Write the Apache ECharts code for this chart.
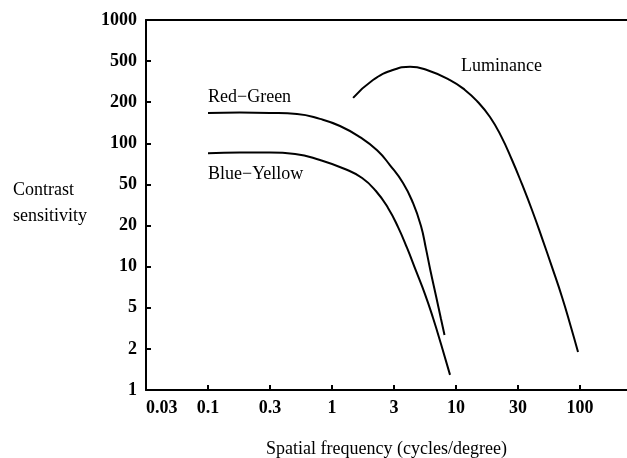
<!DOCTYPE html>
<html>
<head>
<meta charset="utf-8">
<script src="https://cdn.jsdelivr.net/npm/echarts@6/dist/echarts.min.js"></script>
<style>
  html, body { margin: 0; padding: 0; background: #fff; }
  #chart { width: 627px; height: 458px; }
</style>
</head>
<body>
<div id="chart"></div>
<script>
// tick labels (both axes are equally spaced between ticks)
const xTickLabels = ['0.03', '0.1', '0.3', '1', '3', '10', '30', '100']
const yTickLabels = ['1', '2', '5', '10', '20', '50', '100', '200', '500', '1000']
const yTickValues = [1, 2, 5, 10, 20, 50, 100, 200, 500, 1000]

// spatial frequency (cycles/degree) and contrast sensitivity
const redGreenFreq = [0.1, 0.181, 0.316, 0.522, 0.80, 1.16, 1.68, 2.31, 2.94, 3.74, 4.50, 5.22, 5.73, 6.23, 6.90, 7.57, 8.08]
const redGreenSens = [167, 168, 167, 164, 151, 134, 111, 89, 69, 51.2, 33.1, 19.85, 13.5, 9.30, 6.10, 3.89, 2.73]

const blueYellowFreq = [0.1, 0.181, 0.316, 0.504, 0.80, 1.27, 1.75, 2.26, 2.83, 3.41, 4.03, 4.76, 5.62, 6.53, 7.57, 8.95]
const blueYellowSens = [84.6, 85.7, 85.7, 83.6, 75.5, 64.9, 55.7, 43.2, 29.6, 19.5, 13.7, 9.30, 6.30, 3.98, 2.23, 1.29]

const luminanceFreq = [1.48, 2.14, 3.10, 4.26, 5.83, 8.95, 11.8, 15.0, 18.8, 23.1, 28.3, 34.0, 41.0, 49.4, 59.4, 71.6, 84.5, 96.4]
const luminanceSens = [220, 328, 410, 441, 410, 328, 263, 201, 156, 113, 75.5, 50.4, 28.3, 16.2, 9.96, 6.0, 3.26, 1.90]

// x: half-decade steps (0.1 -> 1, 1 -> 3, ...)
function xPos (f) {
  return 2 * Math.log10(f) + 3
}
// y: one step per tick, log inside each step
function yPos (v) {
  for (let i = 0; i < yTickValues.length - 1; i++) {
    const a = yTickValues[i]
    const b = yTickValues[i + 1]
    if (v <= b || i === yTickValues.length - 2) {
      return i + Math.log(v / a) / Math.log(b / a)
    }
  }
}
function toPoints (freq, sens) {
  return freq.map((f, i) => [xPos(f), yPos(sens[i])])
}

const serif = '"Liberation Serif", "DejaVu Serif", serif'
const xMax = (627 - 146) / 62

function curve (name, freq, sens) {
  return {
    name: name,
    type: 'line',
    smooth: 0.5,
    showSymbol: false,
    lineStyle: { color: '#000', width: 2 },
    data: toPoints(freq, sens)
  }
}

const chart = echarts.init(document.getElementById('chart'))
chart.setOption({
  animation: false,
  backgroundColor: '#fff',
  grid: { left: 146, top: 20, right: 0, height: 370, outerBoundsMode: 'none', containLabel: false },
  xAxis: [{
    type: 'value',
    min: 0,
    max: xMax,
    interval: 1,
    splitLine: { show: false },
    axisLine: { lineStyle: { color: '#000', width: 2 } },
    axisTick: {
      inside: true,
      length: 5,
      lineStyle: { color: '#000', width: 2 },
      customValues: [1, 2, 3, 4, 5, 6, 7]
    },
    axisLabel: {
      customValues: [0, 1, 2, 3, 4, 5, 6, 7],
      alignMinLabel: 'left',
      margin: 9,
      color: '#000',
      fontFamily: serif,
      fontWeight: 'bold',
      fontSize: 18,
      formatter: v => xTickLabels[Math.round(v)]
    },
    name: 'Spatial frequency (cycles/degree)',
    nameLocation: 'middle',
    nameGap: 50,
    nameTextStyle: { color: '#000', fontFamily: serif, fontSize: 18 }
  }, {
    type: 'value',
    position: 'top',
    min: 0,
    max: xMax,
    splitLine: { show: false },
    axisLine: { lineStyle: { color: '#000', width: 2 } },
    axisTick: { show: false },
    axisLabel: { show: false }
  }],
  yAxis: {
    type: 'value',
    min: 0,
    max: 9,
    interval: 1,
    splitLine: { show: false },
    axisLine: { lineStyle: { color: '#000', width: 2 } },
    axisTick: {
      inside: true,
      length: 5,
      lineStyle: { color: '#000', width: 2 }
    },
    axisLabel: {
      margin: 9,
      color: '#000',
      fontFamily: serif,
      fontWeight: 'bold',
      fontSize: 18,
      formatter: v => yTickLabels[Math.round(v)]
    }
  },
  graphic: [
    { type: 'text', left: 13, top: 181, style: { text: 'Contrast', font: '18px ' + serif, fill: '#000' } },
    { type: 'text', left: 13, top: 207, style: { text: 'sensitivity', font: '18px ' + serif, fill: '#000' } },
    { type: 'text', left: 208, top: 88, style: { text: 'Red\u2212Green', font: '18px ' + serif, fill: '#000' } },
    { type: 'text', left: 208, top: 165, style: { text: 'Blue\u2212Yellow', font: '18px ' + serif, fill: '#000' } },
    { type: 'text', left: 461, top: 57, style: { text: 'Luminance', font: '18px ' + serif, fill: '#000' } }
  ],
  series: [
    curve('Red-Green', redGreenFreq, redGreenSens),
    curve('Blue-Yellow', blueYellowFreq, blueYellowSens),
    curve('Luminance', luminanceFreq, luminanceSens)
  ]
})
</script>
</body>
</html>
